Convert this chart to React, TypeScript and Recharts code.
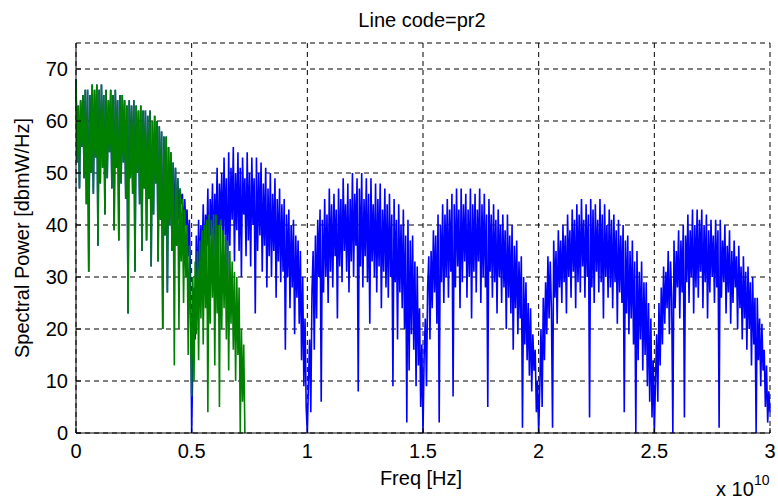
import { CartesianGrid, Line, LineChart, XAxis, YAxis } from "recharts";

// sampling step of the spectrum, in units of 1e10 Hz
const STEP = 0.005;

// blue spectrum, one array per 0.5e10 lobe (100 samples each)
const blueLobe0 = [
  68, 52, 63, 47, 64, 55, 65, 49, 66, 44,
  66, 31, 65, 50, 67, 46, 66, 53, 67, 36,
  66, 48, 67, 51, 65, 42, 66, 49, 64, 54,
  66, 47, 65, 39, 66, 51, 64, 37, 65, 48,
  65, 52, 64, 45, 63, 23, 64, 49, 63, 46,
  64, 31, 63, 50, 62, 44, 63, 35, 62, 47,
  62, 37, 61, 45, 62, 32, 60, 42, 61, 48,
  60, 33, 59, 41, 58, 20, 57, 38, 57, 27,
  55, 40, 54, 35, 52, 38, 51, 36, 49, 41,
  47, 44, 46, 37, 45, 40, 43, 34, 41, 30,
];
const blueLobe1 = [
  0, 14, 28, 18, 38, 26, 41, 30, 40, 33,
  44, 31, 42, 36, 47, 29, 45, 38, 48, 33,
  46, 37, 51, 31, 48, 40, 50, 34, 53, 38,
  49, 27, 54, 36, 51, 41, 55, 33, 50, 39,
  54, 35, 51, 30, 53, 42, 49, 34, 54, 37,
  50, 32, 53, 40, 49, 23, 53, 35, 50, 38,
  52, 31, 48, 36, 51, 28, 47, 34, 50, 30,
  46, 35, 49, 26, 45, 33, 47, 29, 44, 31,
  45, 16, 42, 30, 43, 24, 40, 28, 41, 19,
  38, 26, 37, 21, 35, 14, 30, 9, 22, 5,
];
const blueLobe2 = [
  0, 10, 18, 4, 27, 35, 16, 38, 22, 41,
  30, 43, 6, 41, 27, 45, 30, 42, 25, 47,
  31, 44, 28, 46, 34, 43, 22, 47, 32, 45,
  29, 49, 35, 44, 31, 48, 27, 45, 33, 50,
  30, 46, 36, 49, 8, 47, 32, 50, 28, 45,
  34, 49, 29, 46, 21, 49, 33, 44, 30, 48,
  27, 45, 32, 48, 24, 43, 31, 47, 28, 44,
  26, 46, 30, 42, 9, 45, 29, 41, 18, 44,
  27, 40, 24, 43, 20, 38, 2, 41, 12, 37,
  19, 38, 16, 33, 9, 32, 13, 24, 5, 17,
];
const blueLobe3 = [
  0, 15, 22, 9, 28, 34, 18, 35, 24, 39,
  27, 38, 21, 42, 2, 40, 29, 44, 25, 42,
  30, 45, 26, 43, 31, 46, 7, 44, 28, 47,
  32, 43, 24, 47, 29, 44, 33, 46, 26, 43,
  30, 47, 22, 44, 31, 46, 27, 43, 33, 47,
  25, 44, 30, 46, 28, 42, 5, 45, 31, 42,
  26, 44, 29, 41, 23, 43, 30, 40, 25, 42,
  28, 39, 20, 42, 26, 38, 23, 40, 16, 36,
  24, 37, 19, 33, 22, 34, 1, 30, 17, 29,
  14, 25, 11, 24, 8, 19, 12, 16, 4, 10,
];
const blueLobe4 = [
  0, 9, 20, 5, 26, 14, 29, 19, 34, 22,
  33, 24, 1, 37, 26, 35, 21, 39, 28, 37,
  25, 40, 29, 38, 23, 42, 30, 39, 26, 43,
  31, 41, 24, 44, 29, 42, 27, 45, 32, 41,
  26, 44, 30, 42, 3, 45, 28, 43, 25, 44,
  31, 41, 27, 45, 29, 42, 22, 44, 30, 40,
  26, 43, 28, 41, 24, 42, 29, 39, 21, 41,
  27, 38, 25, 40, 4, 37, 23, 38, 19, 35,
  22, 37, 17, 33, 0, 35, 14, 31, 18, 33,
  12, 29, 15, 29, 9, 25, 6, 22, 3, 14,
];
const blueLobe5 = [
  0, 10, 19, 6, 25, 13, 28, 17, 32, 21,
  31, 24, 35, 19, 33, 26, 0, 37, 24, 35,
  28, 39, 22, 37, 27, 40, 3, 38, 29, 42,
  25, 39, 30, 43, 23, 40, 28, 43, 26, 41,
  31, 43, 24, 40, 29, 42, 22, 39, 27, 41,
  30, 38, 25, 41, 28, 39, 1, 41, 26, 37,
  29, 40, 23, 36, 27, 39, 21, 35, 25, 37,
  28, 34, 20, 36, 24, 32, 18, 34, 22, 31,
  16, 32, 20, 29, 13, 30, 17, 26, 0, 26,
  14, 22, 9, 21, 12, 16, 5, 13, 2, 8,
];
const blueEnd = [4];

// green spectrum: main lobe (0 - 0.495) and tail (0.5 - 0.73)
const greenMain = [
  68, 52, 63, 47, 64, 55, 65, 49, 66, 44,
  66, 31, 65, 50, 67, 46, 66, 53, 67, 36,
  66, 48, 67, 51, 65, 42, 66, 49, 64, 54,
  66, 47, 65, 39, 66, 51, 64, 37, 65, 48,
  65, 52, 64, 45, 63, 23, 64, 49, 63, 46,
  64, 31, 63, 50, 62, 44, 63, 35, 62, 47,
  62, 37, 61, 45, 62, 32, 60, 42, 61, 48,
  60, 33, 59, 41, 58, 20, 57, 38, 57, 27,
  55, 40, 54, 35, 52, 13, 51, 36, 49, 20,
  47, 33, 45, 25, 43, 30, 40, 15, 36, 22,
];
const greenTail = [
  7, 30, 10, 33, 19, 35, 14, 37, 22, 39,
  17, 40, 24, 41, 4, 42, 21, 41, 26, 42,
  13, 42, 23, 40, 5, 41, 20, 39, 24, 38,
  18, 37, 12, 35, 21, 33, 16, 31, 10, 30,
  15, 28, 0, 20, 6, 17, 0,
];

const xTicks = [0, 0.5, 1, 1.5, 2, 2.5, 3];
const yTicks = [0, 10, 20, 30, 40, 50, 60, 70];

const title = "Line code=pr2";
const xLabel = "Freq [Hz]";
const yLabel = "Spectral Power [dbmW/Hz]";

const blue = [
  ...blueLobe0,
  ...blueLobe1,
  ...blueLobe2,
  ...blueLobe3,
  ...blueLobe4,
  ...blueLobe5,
  ...blueEnd,
];
const green = [...greenMain, ...greenTail];

const data = blue.map((v, i) => ({
  freq: Math.round(i * STEP * 1000) / 1000,
  blue: v,
  green: i < green.length ? green[i] : null,
}));

const font = "'Liberation Sans', Arial, Helvetica, sans-serif";
const tickStyle = { fill: "#000", fontSize: 20, fontFamily: font };
const hiddenTick = { fill: "transparent", fontSize: 1 };

export default function App() {
  return (
    <div
      style={{
        position: "absolute",
        left: 0,
        top: 0,
        width: 778,
        height: 500,
        background: "#fff",
      }}
    >
      <LineChart
        width={778}
        height={500}
        data={data}
        margin={{ top: 43, right: 8, bottom: 0, left: 0 }}
      >
        <CartesianGrid stroke="#000" strokeDasharray="5 4" strokeWidth={1} />
        <XAxis
          type="number"
          dataKey="freq"
          domain={[0, 3]}
          ticks={xTicks}
          height={67}
          tickSize={-5}
          tickMargin={16}
          tick={tickStyle}
          tickLine={{ stroke: "#000" }}
          axisLine={{ stroke: "#000" }}
        />
        <XAxis
          xAxisId="top"
          type="number"
          domain={[0, 3]}
          ticks={xTicks}
          orientation="top"
          height={0}
          tickSize={-5}
          tick={hiddenTick}
          tickLine={{ stroke: "#000" }}
          axisLine={{ stroke: "#000" }}
        />
        <YAxis
          type="number"
          domain={[0, 75]}
          ticks={yTicks}
          width={76}
          tickSize={-5}
          tickMargin={13}
          tick={tickStyle}
          tickLine={{ stroke: "#000" }}
          axisLine={{ stroke: "#000" }}
        />
        <YAxis
          yAxisId="right"
          orientation="right"
          type="number"
          domain={[0, 75]}
          ticks={yTicks}
          width={0}
          tickSize={-5}
          tick={hiddenTick}
          tickLine={{ stroke: "#000" }}
          axisLine={{ stroke: "#000" }}
        />
        <Line
          type="linear"
          dataKey="blue"
          stroke="#0000ff"
          strokeWidth={1.6}
          dot={false}
          isAnimationActive={false}
        />
        <Line
          type="linear"
          dataKey="green"
          stroke="#008000"
          strokeWidth={1.6}
          dot={false}
          connectNulls={false}
          isAnimationActive={false}
        />
      </LineChart>
      <svg
        width={778}
        height={500}
        style={{ position: "absolute", left: 0, top: 0, pointerEvents: "none" }}
        fontFamily={font}
      >
        <text x={422} y={27} textAnchor="middle" fontSize={20} fill="#000">
          {title}
        </text>
        <text x={421} y={485} textAnchor="middle" fontSize={20} fill="#000">
          {xLabel}
        </text>
        <text
          transform="translate(29,238) rotate(-90)"
          textAnchor="middle"
          fontSize={20}
          fill="#000"
        >
          {yLabel}
        </text>
        <text x={716} y={496} fontSize={20} fill="#000">
          x 10
        </text>
        <text x={754} y={485} fontSize={14} fill="#000">
          10
        </text>
      </svg>
    </div>
  );
}
